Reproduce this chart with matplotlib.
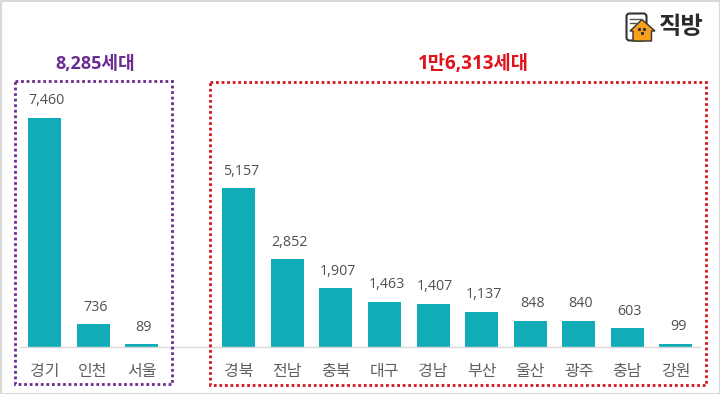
import matplotlib
matplotlib.use('Agg')
import matplotlib.pyplot as plt
from matplotlib.patches import Rectangle, Polygon, FancyBboxPatch

plt.rcParams['font.family'] = ['Open Sans', 'Noto Sans CJK KR', 'DejaVu Sans']

# 왼쪽 그룹 / 오른쪽 그룹
left_regions = ['경기', '인천', '서울']
left_values = [7460, 736, 89]
right_regions = ['경북', '전남', '충북', '대구', '경남', '부산', '울산', '광주', '충남', '강원']
right_values = [5157, 2852, 1907, 1463, 1407, 1137, 848, 840, 603, 99]
left_title = '8,285세대'
right_title = '1만6,313세대'

BAR = '#12abb8'
TXT = '#505050'
W, H = 720, 394

fig = plt.figure(figsize=(W / 100, H / 100), dpi=100)

# 막대 축: 한 칸 비워서 두 그룹 분리
ax = fig.add_axes([20.2 / W, (H - 347) / H, 680 / W, 267 / H])
left_x = list(range(len(left_values)))
right_x = [i + len(left_values) + 1 for i in range(len(right_values))]
ax.bar(left_x, left_values, width=0.68, color=BAR)
ax.bar(right_x, right_values, width=0.68, color=BAR)
for x, v in zip(left_x + right_x, left_values + right_values):
    ax.annotate(f'{v:,}', (x, v), xytext=(1.6, 7), textcoords='offset points',
                ha='center', va='bottom', fontsize=10.3, color=TXT)
ax.set_xlim(-0.5, 13.5)
ax.set_ylim(0, 8679)
ax.set_yticks([])
ax.set_xticks(left_x + right_x)
ax.set_xticklabels(left_regions + right_regions, fontsize=11.5, color='#606060')
ax.tick_params(axis='x', length=0, pad=12)
for s in ['top', 'left', 'right']:
    ax.spines[s].set_visible(False)
ax.spines['bottom'].set_color('#d9d9d9')
ax.spines['bottom'].set_linewidth(1)
ax.patch.set_alpha(0)

# 박스, 제목, 로고는 픽셀 좌표 오버레이
ov = fig.add_axes([0, 0, 1, 1], zorder=5)
ov.set_xlim(0, W)
ov.set_ylim(H, 0)
ov.axis('off')

ov.add_patch(Rectangle((0.5, 0.5), W - 1, H - 1, fill=False, ec='#d9d9d9', lw=1.5))
ov.add_patch(Rectangle((15, 81), 157, 303, fill=False, ec='#6a2c91', lw=2, ls=(0, (1, 1))))
ov.add_patch(Rectangle((210, 82), 496, 303, fill=False, ec='#d2161e', lw=2, ls=(0, (1, 1))))
ov.text(95, 64, left_title, ha='center', va='center', fontsize=13, fontweight='bold',
        color='#6a2c91')
ov.text(473, 64, right_title, ha='center', va='center', fontsize=13.5, fontweight='bold',
        color='#e0131a')

# 직방 로고
ov.add_patch(FancyBboxPatch((626.5, 13.5), 20, 27, boxstyle='round,pad=0,rounding_size=3',
                            fc='white', ec='#333333', lw=1.5))
ov.plot([630, 640], [19, 19], color='#555555', lw=1)
ov.plot([630, 636], [23, 23], color='#555555', lw=1)
ov.add_patch(Polygon([(630, 31), (642, 19.5), (655, 31), (651.5, 31), (651.5, 41), (633, 41), (633, 31)],
                     fc='#f9a01b', ec='#333333', lw=1))
ov.plot([639, 644, 642], [29, 29, 33], ls='none', marker='s', ms=1.2, color='#333333')
ov.text(681.5, 28, '직방', ha='center', va='center', fontsize=17.5, fontweight='bold', color='#2b2b2b')

fig.savefig('out.png', dpi=100)
